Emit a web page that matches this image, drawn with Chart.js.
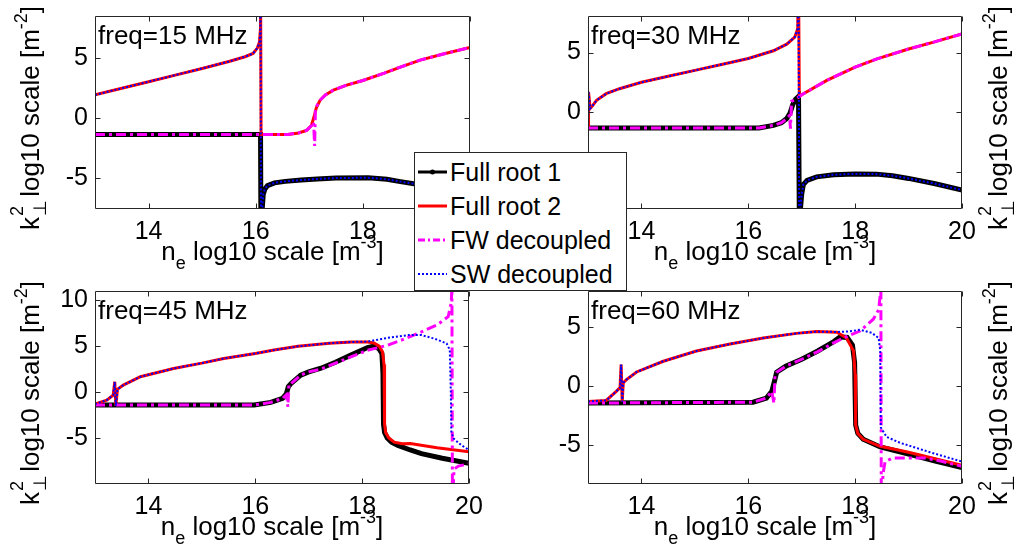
<!DOCTYPE html>
<html>
<head>
<meta charset="utf-8">
<script src="https://cdn.jsdelivr.net/npm/chart.js@4"></script>
<style>
  body { margin: 0; background: #fff; width: 1024px; height: 554px; overflow: hidden; position: relative;
         font-family: "Liberation Sans", Arial, sans-serif; color: #000; }
  canvas { position: absolute; left: 0; top: 0; }
  .txt { position: absolute; z-index: 2; white-space: nowrap; font-size: 26px; line-height: 26px; }
  .xt { width: 400px; text-align: center; }
  .yt { transform: translate(-50%, -50%) rotate(-90deg); }
  .sub { font-size: 18px; position: relative; top: 9px; }
  .sup { font-size: 18px; position: relative; top: -12px; }
  .kk { display: inline-block; position: relative; width: 13px; height: 26px; vertical-align: top; }
  .kk span { position: absolute; left: 1px; font-size: 18px; line-height: 18px; }
  #legend { position: absolute; z-index: 3; left: 414px; top: 152px; width: 211px; height: 137px;
            background: #fff; border: 1px solid #262626; }
  #legend .row { position: absolute; left: 0; height: 25px; line-height: 25px; font-size: 25px; white-space: nowrap; }
  #legend svg { position: absolute; left: 3px; top: 7px; }
  #legend .row span { position: absolute; left: 35px; top: 0; }
</style>
</head>
<body>
<canvas id="c15" width="1024" height="554"></canvas>
<canvas id="c30" width="1024" height="554"></canvas>
<canvas id="c45" width="1024" height="554"></canvas>
<canvas id="c60" width="1024" height="554"></canvas>
<div id="legend"></div>
<script>
// series names and tick values
const seriesNames = ["Full root 1", "Full root 2", "FW decoupled", "SW decoupled"];
const freqs = [15, 30, 45, 60];
const xRange = [13, 20];
const xTicks = [14, 16, 18, 20];
const yTicks15 = [-5, 0, 5];
const yTicks30 = [-5, 0, 5];
const yTicks45 = [-5, 0, 5, 10];
const yTicks60 = [-5, 0, 5];
const yRange15 = [-7.6, 8.47];
const yRange30 = [-8.15, 8.07];
const yRange45 = [-10, 11];
const yRange60 = [-8.3, 8.1];

// [ne log10, k^2 log10]
const f15Root1 = [[13,-1.39],[16.09,-1.39],[16.1,-12],[16.115,-8],[16.14,-6.4],[16.17,-5.95],[16.22,-5.65],[16.35,-5.42],[16.55,-5.3],[16.85,-5.18],[17.15,-5.1],[17.5,-5.02],[18.1,-5.0],[18.45,-5.12],[18.7,-5.32],[19.1,-5.6],[19.5,-5.82],[20,-6.05]];
const f15Root2 = [[13,1.9],[13.5,2.45],[14,3.0],[14.5,3.55],[15,4.1],[15.5,4.68],[15.8,5.08],[15.95,5.35],[16.03,5.8],[16.07,6.3],[16.085,7.2],[16.09,12],[16.1,-1.39],[16.6,-1.39],[16.8,-1.27],[16.95,-1.05],[17.04,-0.65],[17.09,0.1],[17.13,0.8],[17.2,1.45],[17.3,1.9],[17.45,2.3],[17.7,2.72],[18,3.1],[18.4,3.72],[18.7,4.22],[19.07,4.8],[19.5,5.3],[20,5.85]];
const f15Fw = [[13,-1.39],[16.6,-1.39],[16.8,-1.27],[16.95,-1.05],[17.04,-0.65],[17.08,-0.35],[17.1,-2.35],[17.115,0.8],[17.2,1.45],[17.3,1.9],[17.45,2.3],[17.7,2.72],[18,3.1],[18.4,3.72],[18.7,4.22],[19.07,4.8],[19.5,5.3],[20,5.85]];
const f15Sw = [[13,1.9],[13.5,2.45],[14,3.0],[14.5,3.55],[15,4.1],[15.5,4.68],[15.8,5.08],[15.95,5.35],[16.03,5.8],[16.07,6.3],[16.085,7.2],[16.09,12],[16.1,-12],[16.115,-8],[16.14,-6.4],[16.17,-5.95],[16.22,-5.65],[16.35,-5.42],[16.55,-5.3],[16.85,-5.18],[17.15,-5.1],[17.5,-5.02],[18.1,-5.0],[18.45,-5.12],[18.7,-5.32],[19.1,-5.6],[19.5,-5.82],[20,-6.05]];

const f30Root1 = [[13,-1.34],[16.2,-1.34],[16.47,-1.12],[16.62,-0.9],[16.72,-0.55],[16.78,-0.1],[16.83,0.6],[16.88,1.05],[16.94,1.3],[16.96,-12],[16.975,-8.2],[17.0,-6.9],[17.03,-6.1],[17.1,-5.75],[17.28,-5.45],[17.6,-5.27],[18,-5.2],[18.4,-5.22],[18.7,-5.35],[19,-5.58],[19.5,-6.03],[20,-6.56]];
const f30Root2 = [[13,-1.3],[13.01,1.7],[13.04,0.3],[13.08,0.5],[13.16,0.98],[13.34,1.54],[13.59,1.96],[14,2.5],[14.5,3.0],[15,3.5],[15.5,4.0],[16,4.5],[16.47,5.15],[16.72,5.7],[16.87,6.3],[16.925,7.0],[16.94,12],[16.955,1.3],[17.0,1.45],[17.47,2.66],[18,3.77],[18.41,4.47],[19,5.3],[19.47,5.87],[20,6.57]];
const f30Fw = [[13,-1.34],[16.2,-1.34],[16.47,-1.12],[16.62,-0.9],[16.72,-0.55],[16.77,-0.3],[16.79,-1.4],[16.81,0.9],[16.88,1.05],[16.955,1.3],[17.0,1.45],[17.47,2.66],[18,3.77],[18.41,4.47],[19,5.3],[19.47,5.87],[20,6.57]];
const f30Sw = [[13,-1.3],[13.01,1.7],[13.04,0.3],[13.08,0.5],[13.16,0.98],[13.34,1.54],[13.59,1.96],[14,2.5],[14.5,3.0],[15,3.5],[15.5,4.0],[16,4.5],[16.47,5.15],[16.72,5.7],[16.87,6.3],[16.925,7.0],[16.94,12],[16.955,-12],[16.975,-8.2],[17.0,-6.9],[17.03,-6.1],[17.1,-5.75],[17.28,-5.45],[17.6,-5.27],[18,-5.2],[18.4,-5.22],[18.7,-5.35],[19,-5.58],[19.5,-6.03],[20,-6.56]];

const f45Root1 = [[13,-1.41],[15.98,-1.41],[16.29,-1.12],[16.51,-0.69],[16.58,-0.2],[16.62,0.6],[16.67,0.94],[16.85,1.85],[17.0,2.2],[17.23,2.6],[17.5,3.25],[17.8,4.05],[18.1,4.85],[18.22,5.0],[18.31,4.75],[18.37,4.2],[18.39,2.0],[18.4,-3.5],[18.42,-4.4],[18.47,-5.0],[18.55,-5.45],[18.67,-5.8],[18.9,-6.3],[19.11,-6.7],[19.5,-7.2],[20,-7.75]];
const f45Root2 = [[13,-1.3],[13.22,-0.87],[13.34,-0.33],[13.37,1.12],[13.39,-1.5],[13.42,0.3],[13.53,0.76],[13.85,1.67],[14.47,2.57],[15,3.15],[15.41,3.66],[16,4.2],[16.35,4.57],[16.8,4.98],[17.39,5.32],[17.8,5.45],[18.1,5.45],[18.22,5.35],[18.32,5.0],[18.38,4.4],[18.41,3.0],[18.42,-3.5],[18.44,-4.4],[18.5,-5.0],[18.6,-5.45],[18.75,-5.62],[18.9,-5.6],[19.4,-6.05],[20,-6.5]];
const f45Fw = [[13,-1.41],[15.98,-1.41],[16.29,-1.12],[16.51,-0.69],[16.58,-0.3],[16.61,-1.6],[16.63,0.9],[16.67,0.94],[16.85,1.85],[17.0,2.2],[17.23,2.5],[17.5,3.15],[17.8,3.85],[18.1,4.55],[18.48,5.1],[18.8,5.8],[19.11,6.55],[19.4,7.3],[19.61,8.2],[19.67,9.8],[19.68,12],[19.69,-12],[19.72,-8.4],[19.8,-8.05],[20,-7.8]];
const f45Sw = [[13,-1.3],[13.22,-0.87],[13.34,-0.33],[13.37,1.12],[13.39,-1.5],[13.42,0.3],[13.53,0.76],[13.85,1.67],[14.47,2.57],[15,3.15],[15.41,3.66],[16,4.2],[16.35,4.57],[16.8,4.98],[17.39,5.32],[17.8,5.45],[18.1,5.5],[18.48,5.9],[18.86,6.2],[19.11,6.2],[19.36,5.8],[19.58,5.3],[19.64,4.6],[19.66,0],[19.67,-4.4],[19.72,-5.1],[19.85,-5.75],[20,-6.3]];

const f60Root1 = [[13,-1.42],[16.09,-1.35],[16.34,-1.0],[16.44,-0.43],[16.5,0.6],[16.53,1.2],[16.7,1.7],[17.0,2.3],[17.3,3.0],[17.6,3.8],[17.72,4.2],[17.85,4.15],[17.95,3.5],[17.99,2.0],[18.01,-3.3],[18.05,-4.0],[18.15,-4.5],[18.47,-5.15],[19,-5.75],[19.5,-6.35],[20,-6.9]];
const f60Root2 = [[13,-1.28],[13.34,-1.2],[13.53,-0.43],[13.6,-0.1],[13.62,1.85],[13.64,-1.3],[13.66,0.3],[13.72,0.57],[13.91,1.22],[14.41,2.13],[15.03,3.0],[15.66,3.6],[16.28,4.1],[16.9,4.5],[17.28,4.65],[17.66,4.6],[17.84,4.1],[17.97,3.0],[18.0,1.0],[18.01,-3.3],[18.05,-4.0],[18.15,-4.5],[18.47,-5.1],[19,-5.6],[19.5,-6.15],[20,-6.7]];
const f60Fw = [[13,-1.42],[16.09,-1.35],[16.34,-1.0],[16.44,-0.43],[16.48,-1.45],[16.5,0.9],[16.53,1.2],[16.7,1.7],[17.0,2.3],[17.3,2.95],[17.6,3.7],[17.78,4.1],[18.09,4.7],[18.34,5.7],[18.44,6.5],[18.475,8],[18.48,12],[18.49,-12],[18.52,-7.5],[18.56,-6.4],[18.7,-6.1],[19.3,-6.1],[19.6,-6.35],[20,-6.8]];
const f60Sw = [[13,-1.28],[13.34,-1.2],[13.53,-0.43],[13.6,-0.1],[13.62,1.85],[13.64,-1.3],[13.66,0.3],[13.72,0.57],[13.91,1.22],[14.41,2.13],[15.03,3.0],[15.66,3.6],[16.28,4.1],[16.9,4.5],[17.28,4.65],[17.66,4.62],[17.84,4.65],[18.09,4.8],[18.31,4.55],[18.44,4.1],[18.47,3.0],[18.48,-3.5],[18.59,-4.3],[18.84,-4.8],[19.4,-5.6],[20,-6.4]];

// black under red under magenta under blue (lower order is drawn on top)
const lineStyles = [
  { borderColor: "#000000", borderWidth: 5, order: 4 },
  { borderColor: "#ff0000", borderWidth: 3, order: 3 },
  { borderColor: "#ff00ff", borderWidth: 3, borderDash: [10, 4, 3, 4], order: 2 },
  { borderColor: "#0000ff", borderWidth: 2, borderDash: [2, 2], order: 1 }
];

// plot boxes [left, top, right, bottom] in page pixels, y title side
const panels = [
  { id: "c15", freq: freqs[0], data: [f15Root1, f15Root2, f15Fw, f15Sw], yTicks: yTicks15, yRange: yRange15, box: [95, 16, 470, 209], side: "left" },
  { id: "c30", freq: freqs[1], data: [f30Root1, f30Root2, f30Fw, f30Sw], yTicks: yTicks30, yRange: yRange30, box: [588, 16, 962, 209], side: "right" },
  { id: "c45", freq: freqs[2], data: [f45Root1, f45Root2, f45Fw, f45Sw], yTicks: yTicks45, yRange: yRange45, box: [95, 291, 469, 484], side: "left" },
  { id: "c60", freq: freqs[3], data: [f60Root1, f60Root2, f60Fw, f60Sw], yTicks: yTicks60, yRange: yRange60, box: [588, 291, 962, 484], side: "right" }
];

const tickFont = { family: "Liberation Sans", size: 25 };

// matlab style box with inward ticks on all four sides
const frame = {
  id: "frame",
  afterDraw(chart) {
    const ctx = chart.ctx, a = chart.chartArea;
    const sx = chart.scales.x, sy = chart.scales.y;
    const l = Math.round(a.left) + 0.5, r = Math.round(a.right) - 0.5;
    const t = Math.round(a.top) + 0.5, b = Math.round(a.bottom) - 0.5;
    ctx.save();
    ctx.strokeStyle = "#262626";
    ctx.lineWidth = 1;
    ctx.beginPath();
    ctx.rect(l, t, r - l, b - t);
    sx.ticks.forEach(tk => {
      const px = Math.round(sx.getPixelForValue(tk.value)) + 0.5;
      ctx.moveTo(px, b); ctx.lineTo(px, b - 5);
      ctx.moveTo(px, t); ctx.lineTo(px, t + 5);
    });
    sy.ticks.forEach(tk => {
      const py = Math.round(sy.getPixelForValue(tk.value)) + 0.5;
      ctx.moveTo(l, py); ctx.lineTo(l + 5, py);
      ctx.moveTo(r, py); ctx.lineTo(r - 5, py);
    });
    ctx.stroke();
    ctx.restore();
  }
};

function addText(html, cls, style) {
  const d = document.createElement("div");
  d.className = "txt " + cls;
  d.innerHTML = html;
  Object.assign(d.style, style);
  document.body.appendChild(d);
}

function drawPanel(p) {
  const [L, T, R, B] = p.box;
  const yW = 60, xH = 40;
  const datasets = p.data.map((rows, i) => Object.assign({
    label: seriesNames[i],
    data: rows.map(r => ({ x: r[0], y: r[1] })),
    pointRadius: 0,
    tension: 0,
    fill: false,
    clip: 0
  }, lineStyles[i]));

  new Chart(document.getElementById(p.id), {
    type: "line",
    data: { datasets: datasets },
    options: {
      responsive: false,
      animation: false,
      events: [],
      layout: { padding: { left: L - yW, top: T, right: 1024 - R, bottom: 554 - B - xH } },
      plugins: { legend: { display: false }, tooltip: { enabled: false } },
      scales: {
        x: {
          type: "linear", min: xRange[0], max: xRange[1],
          grid: { display: false, drawTicks: false }, border: { display: false },
          afterBuildTicks: s => { s.ticks = xTicks.map(v => ({ value: v })); },
          afterFit: s => { s.height = xH; s.paddingLeft = 0; s.paddingRight = 0; },
          ticks: { font: tickFont, color: "#000", padding: 8, maxRotation: 0 }
        },
        y: {
          type: "linear", min: p.yRange[0], max: p.yRange[1],
          grid: { display: false, drawTicks: false }, border: { display: false },
          afterBuildTicks: s => { s.ticks = p.yTicks.map(v => ({ value: v })); },
          afterFit: s => { s.width = yW; s.paddingTop = 0; s.paddingBottom = 0; },
          ticks: { font: tickFont, color: "#000", padding: 7 }
        }
      }
    },
    plugins: [frame]
  });

  addText("freq=" + p.freq + " MHz", "", { left: (L + 3) + "px", top: (T + 6) + "px" });
  addText('n<span class="sub">e</span> log10 scale [m<span class="sup">-3</span>]', "xt",
    { left: ((L + R) / 2 - 210) + "px", top: (B + 29) + "px" });
  const yx = p.side === "left" ? 31 : 999;
  addText('k<span class="kk"><span style="top:-9px">2</span><span style="top:14px">&#8869;</span></span> log10 scale [m<span class="sup">-2</span>]', "yt",
    { left: yx + "px", top: ((T + B) / 2 + 5) + "px" });
}

panels.forEach(drawPanel);

// legend, drawn as a box over the middle of the figure
const legendSamples = [
  '<line x1="0" y1="5" x2="29" y2="5" stroke="#000" stroke-width="3"/><circle cx="14.5" cy="5" r="2.5" fill="#000"/>',
  '<line x1="0" y1="5" x2="29" y2="5" stroke="#ff0000" stroke-width="3"/>',
  '<line x1="0" y1="5" x2="29" y2="5" stroke="#ff00ff" stroke-width="3" stroke-dasharray="7 3 2 3"/>',
  '<line x1="0" y1="5" x2="29" y2="5" stroke="#0000ff" stroke-width="2" stroke-dasharray="2 2"/>'
];
const legend = document.getElementById("legend");
seriesNames.forEach((name, i) => {
  const row = document.createElement("div");
  row.className = "row";
  row.style.top = (7 + 34 * i) + "px";
  row.innerHTML = '<svg width="30" height="10">' + legendSamples[i] + '</svg><span>' + name + '</span>';
  legend.appendChild(row);
});
</script>
</body>
</html>
